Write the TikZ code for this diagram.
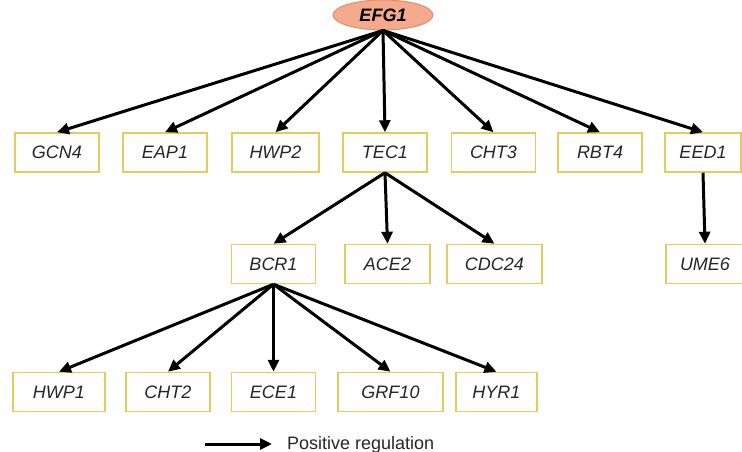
\documentclass[tikz,border=0pt]{standalone}
\usepackage{fontspec}
\setmainfont{Liberation Sans}
\usetikzlibrary{shapes.geometric}
\usetikzlibrary{arrows.meta}
\definecolor{geneedge}{RGB}{228,204,92}
\definecolor{rootfill}{RGB}{244,170,140}
\definecolor{rootedge}{RGB}{226,140,110}
\tikzset{gene/.style={draw=geneedge,line width=1.5pt,fill=white,minimum width=84pt,minimum height=39pt,
                      inner sep=2pt,font=\fontsize{18}{21}\selectfont\itshape,text=black!85},
         regulator/.style={ellipse,draw=rootedge,fill=rootfill,line width=1pt,minimum width=100pt,minimum height=30pt,
                      inner sep=0pt,font=\fontsize{18}{21}\selectfont\bfseries\itshape},
         activates/.style={line width=3pt,-{Triangle[length=12pt,width=11pt]}},
         }

\begin{document}
\begin{tikzpicture}[x=1pt,y=-1pt]
\useasboundingbox (0,0) rectangle (742,452);
% root
\node[regulator] (EFG1) at (383,15) {EFG1};
% first level
\node[gene] (GCN4) at (57,152.5) {GCN4};
\node[gene] (EAP1) at (165,152.5) {EAP1};
\node[gene,minimum width=87pt] (HWP2) at (275.5,152.5) {HWP2};
\node[gene] (TEC1) at (385,152.5) {TEC1};
\node[gene] (CHT3) at (493.5,152.5) {CHT3};
\node[gene] (RBT4) at (600,152.5) {RBT4};
\node[gene,minimum width=76pt] (EED1) at (703,152.5) {EED1};
% second level
\node[gene] (BCR1) at (273.5,264) {BCR1};
\node[gene,minimum width=85pt] (ACE2) at (387.5,264) {ACE2};
\node[gene,minimum width=95pt] (CDC24) at (494.5,264) {CDC24};
\node[gene,minimum width=78pt] (UME6) at (705,264) {UME6};
% third level
\node[gene,minimum width=92pt] (HWP1) at (59,392) {HWP1};
\node[gene] (CHT2) at (168,392) {CHT2};
\node[gene] (ECE1) at (273.5,392) {ECE1};
\node[gene,minimum width=105pt] (GRF10) at (390.5,392) {GRF10};
\node[gene,minimum width=81pt] (HYR1) at (496.5,392) {HYR1};

\foreach \g in {GCN4,EAP1,HWP2,TEC1,CHT3,RBT4,EED1}
    \draw[activates] (EFG1.south) -- (\g.north);
\foreach \g in {BCR1,ACE2,CDC24}
    \draw[activates] (TEC1.south) -- (\g.north);
\foreach \g in {HWP1,CHT2,ECE1,GRF10,HYR1}
    \draw[activates] (BCR1.south) -- (\g.north);
\draw[activates] (EED1.south) -- (UME6.north);

% legend
\coordinate (legstart) at (205,444);
\coordinate (legend) at (272,444);
\draw[activates] (legstart) -- (legend);
\node[anchor=base west,inner sep=0pt,font=\fontsize{18}{21}\selectfont,text=black!85] (legtext) at (287,449) {Positive regulation};
\end{tikzpicture}
\end{document}
